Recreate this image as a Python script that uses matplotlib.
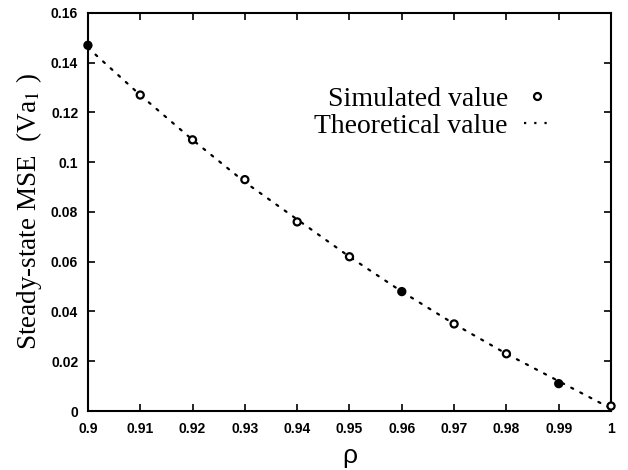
import matplotlib
matplotlib.use("Agg")
import matplotlib.pyplot as plt
from matplotlib.ticker import FuncFormatter
from matplotlib.lines import Line2D

# values
rho = [0.90, 0.91, 0.92, 0.93, 0.94, 0.95, 0.96, 0.97, 0.98, 0.99, 1.00]
simulated = [0.147, 0.127, 0.109, 0.093, 0.076, 0.062, 0.048, 0.035, 0.023, 0.011, 0.002]
theoretical = [0.146, 0.127, 0.109, 0.092, 0.077, 0.062, 0.048, 0.035, 0.023, 0.012, 0.001]
x_ticks = [0.90, 0.91, 0.92, 0.93, 0.94, 0.95, 0.96, 0.97, 0.98, 0.99, 1.00]
y_ticks = [0, 0.02, 0.04, 0.06, 0.08, 0.10, 0.12, 0.14, 0.16]

# points that print as solid dots in the scan
solid_points = {0, 6, 9}

plt.rcParams["mathtext.fontset"] = "stix"

fig = plt.figure(figsize=(6.28, 4.70), dpi=100)
ax = fig.add_axes([0.140, 0.1255, 0.833, 0.847])

ax.plot(rho, theoretical, color="black", linewidth=1.6,
        linestyle=(0, (1, 3.6)), dash_capstyle="round")

faces = ["black" if i in solid_points else "white" for i in range(len(rho))]
ax.scatter(rho, simulated, s=26, facecolors=faces, edgecolors="black",
           linewidths=1.6, zorder=3, clip_on=False)

ax.set_xlim(0.9, 1.0)
ax.set_ylim(0, 0.16)
ax.set_xticks(x_ticks)
ax.set_yticks(y_ticks)
ax.xaxis.set_major_formatter(FuncFormatter(lambda v, p: f"{v:g}"))
ax.yaxis.set_major_formatter(FuncFormatter(lambda v, p: f"{v:g}"))
ax.tick_params(direction="in", length=5, width=1.2, top=True, right=True,
               labelsize=10)
ax.tick_params(axis="x", pad=8)
ax.tick_params(axis="y", pad=7)
for lab in ax.get_xticklabels() + ax.get_yticklabels():
    lab.set_fontfamily("Liberation Sans")
    lab.set_fontweight("bold")
for sp in ax.spines.values():
    sp.set_linewidth(1.5)

ax.set_ylabel(r"Steady-state MSE  (Va$_1$ )", fontfamily="Liberation Serif",
              fontsize=19.5, labelpad=5)
ax.set_xlabel("ρ", fontfamily="Liberation Sans", fontsize=19, labelpad=6)

handles = [
    Line2D([], [], linestyle="none", marker="o", markersize=5,
           markerfacecolor="white", markeredgecolor="black", markeredgewidth=1.6),
    Line2D([], [], color="black", linewidth=1.6, linestyle=(0, (1, 3.6))),
]
ax.legend(handles, ["Simulated value", "Theoretical value"], loc="upper right",
          bbox_to_anchor=(0.93, 0.878), frameon=False, markerfirst=False,
          handlelength=0.9, handletextpad=0.6, labelspacing=0.05,
          prop={"family": "Liberation Serif", "size": 20})

fig.savefig("out.png", dpi=100)
